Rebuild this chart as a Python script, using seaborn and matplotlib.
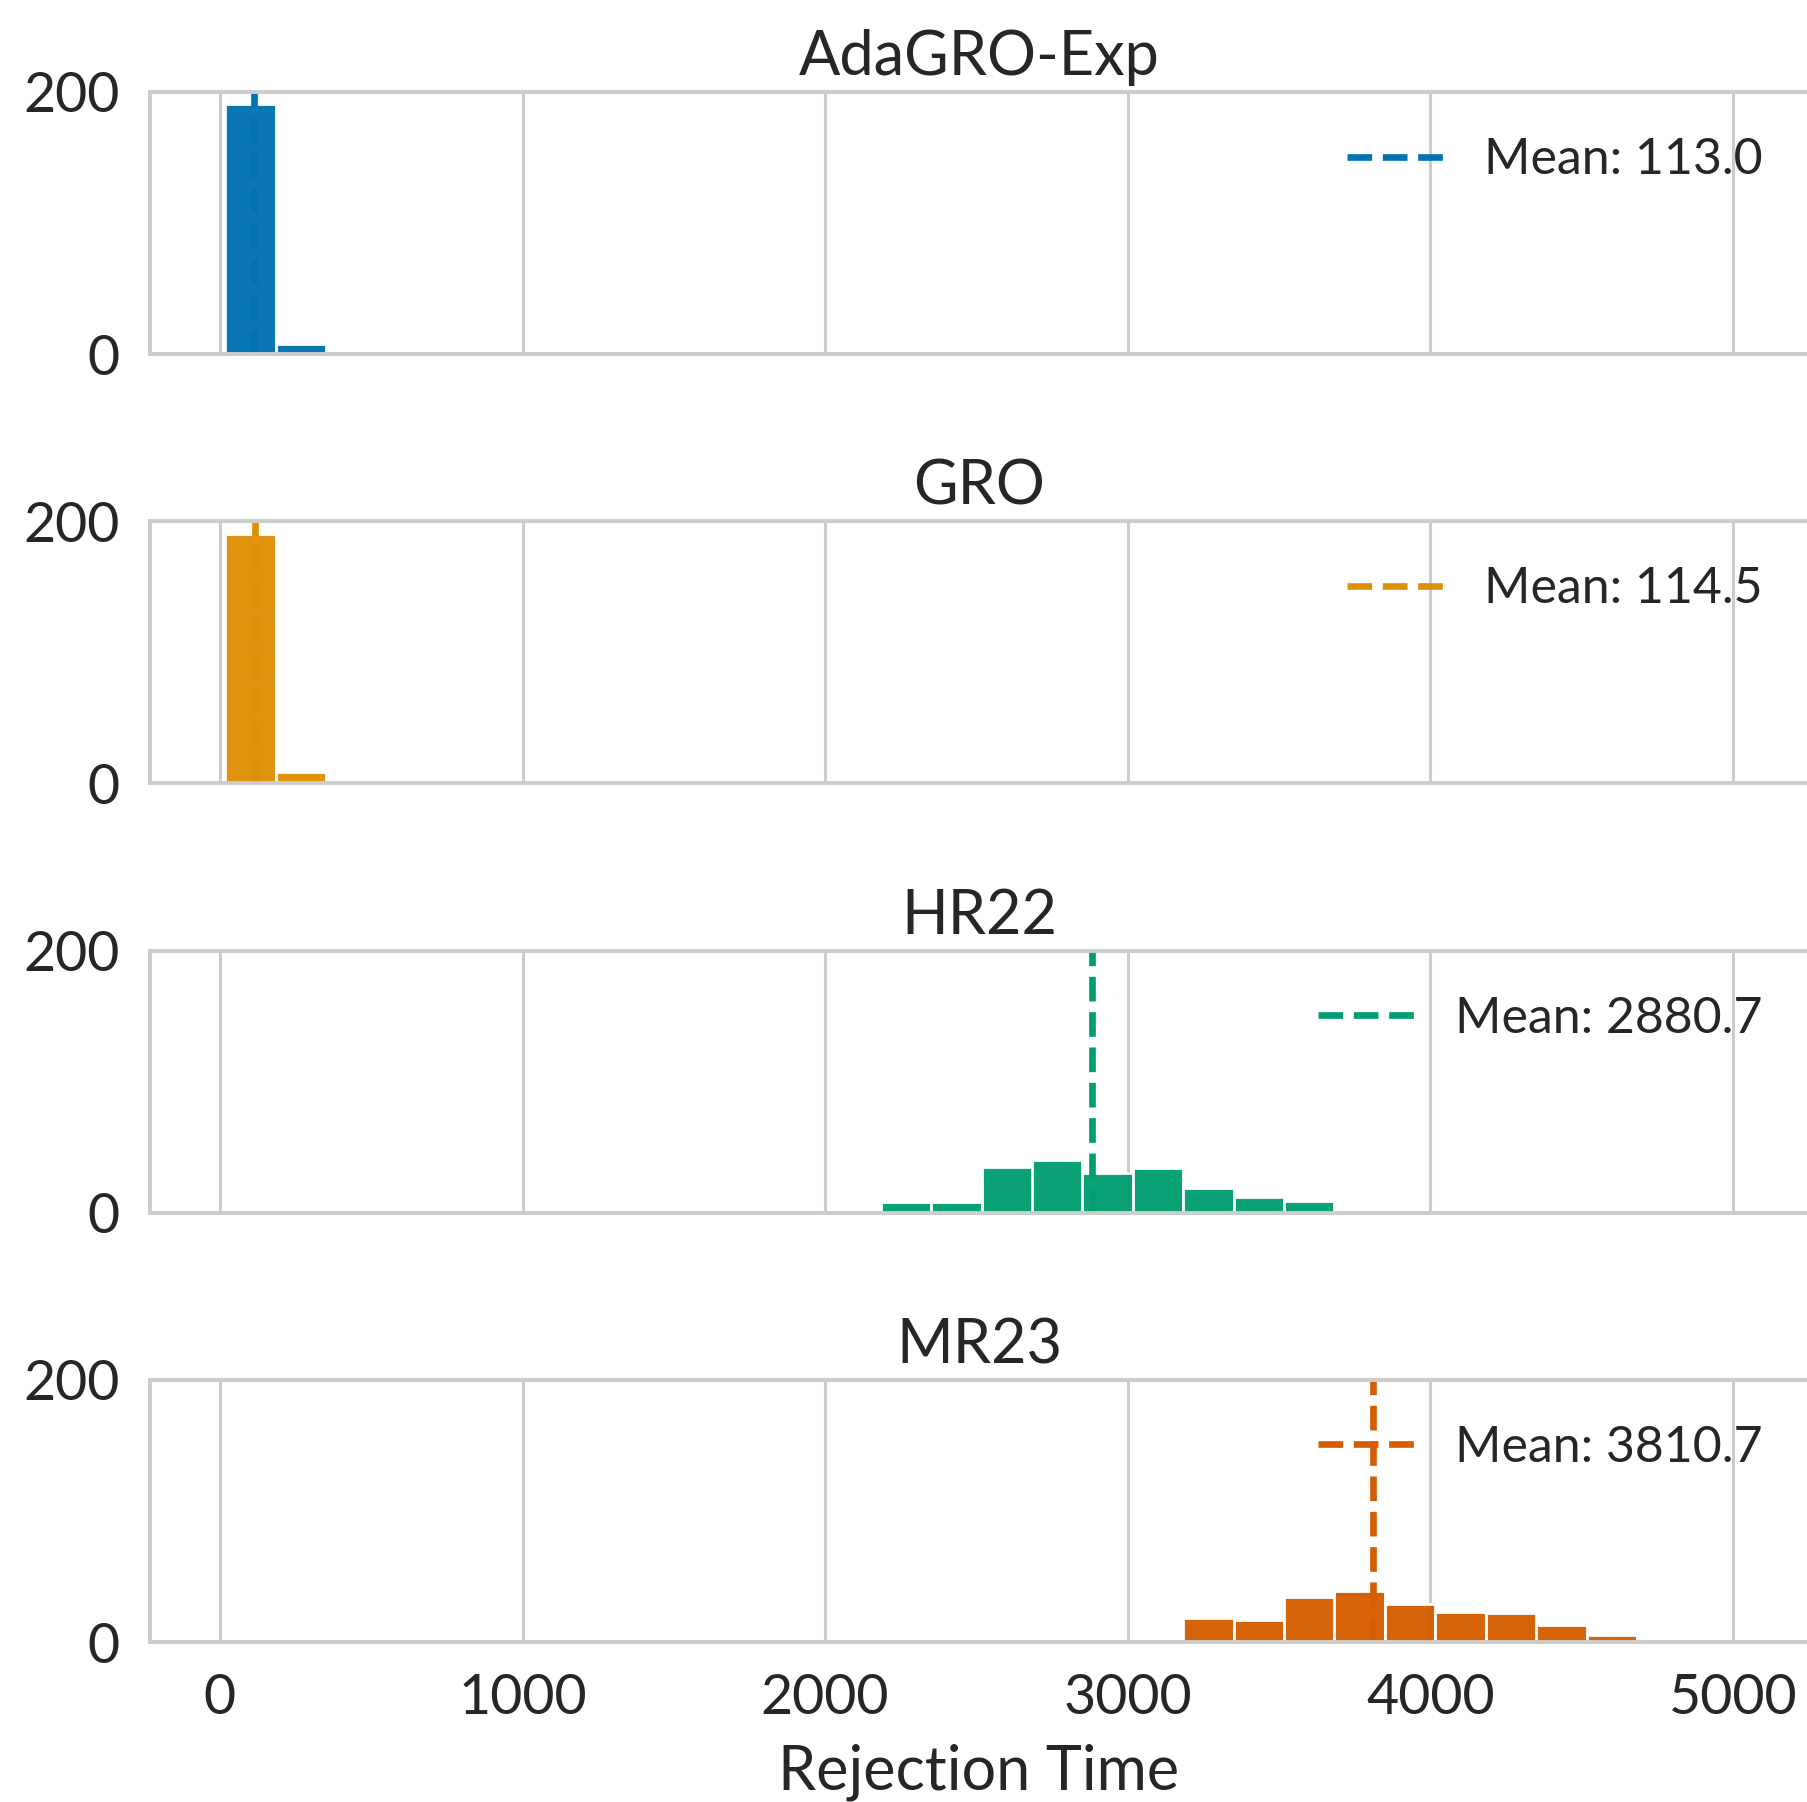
import numpy as np
import matplotlib
matplotlib.use("Agg")
import matplotlib.pyplot as plt
import seaborn as sns

# ----------------------------
# DATA
# ----------------------------
methods = ["AdaGRO-Exp", "GRO", "HR22", "MR23"]
mean_values = [113.0, 114.5, 2880.7, 3810.7]

# shared histogram bins
bin_start = 18.0
bin_width = 166.6
first_bin = [0, 0, 13, 18]

ada_counts = [191, 8]
gro_counts = [190, 9]
hr22_counts = [8, 8, 35, 40, 30, 34, 19, 12, 9]
mr23_counts = [2, 18, 17, 34, 39, 29, 23, 22, 13, 5]
all_counts = [ada_counts, gro_counts, hr22_counts, mr23_counts]

x_ticks = [0, 1000, 2000, 3000, 4000, 5000]
y_ticks = [0, 200]

# ----------------------------
# STYLE
# ----------------------------
sns.set_theme(style="whitegrid", palette="colorblind")
plt.rcParams["font.family"] = ["Lato", "DejaVu Sans"]
plt.rcParams["axes.edgecolor"] = ".8"
plt.rcParams["axes.linewidth"] = 1.4
plt.rcParams["grid.linewidth"] = 1.1
plt.rcParams["grid.color"] = ".8"
colors = sns.color_palette("colorblind")[:4]

fig, axes = plt.subplots(4, 1, figsize=(9.04, 9.01), dpi=200, sharex=True)
fig.subplots_adjust(left=150 / 1808, right=1.0, top=1 - 92 / 1802,
                    bottom=1 - 1642 / 1802, hspace=0.637)

for ax, name, counts, start, mean, color in zip(
        axes, methods, all_counts, first_bin, mean_values, colors):
    edges = bin_start + bin_width * np.arange(start, start + len(counts) + 1)
    centers = (edges[:-1] + edges[1:]) / 2
    # one value per sample, sitting in the middle of its bin
    samples = np.repeat(centers, counts)
    sns.histplot(x=samples, bins=[float(e) for e in edges], ax=ax,
                 color=color, alpha=0.97, edgecolor="white", linewidth=1.0)
    ax.axvline(mean, color=color, linestyle="--", linewidth=2.4,
               label=f"Mean: {mean:.1f}")
    ax.set_title(name, fontsize=22, color=".15", pad=6)
    ax.set_xlim(-231, 5248)
    ax.set_ylim(0, 200)
    ax.set_yticks(y_ticks)
    ax.set_ylabel("")
    ax.spines["right"].set_visible(False)
    ax.tick_params(axis="both", length=0, pad=11, labelsize=20, labelcolor=".15")
    ax.legend(loc="upper right", frameon=False, fontsize=18,
              handletextpad=0.75)

axes[-1].set_xticks(x_ticks)
axes[-1].set_xlabel("Rejection Time", fontsize=22, color=".15", labelpad=7)

fig.savefig("out.png", dpi=200)
